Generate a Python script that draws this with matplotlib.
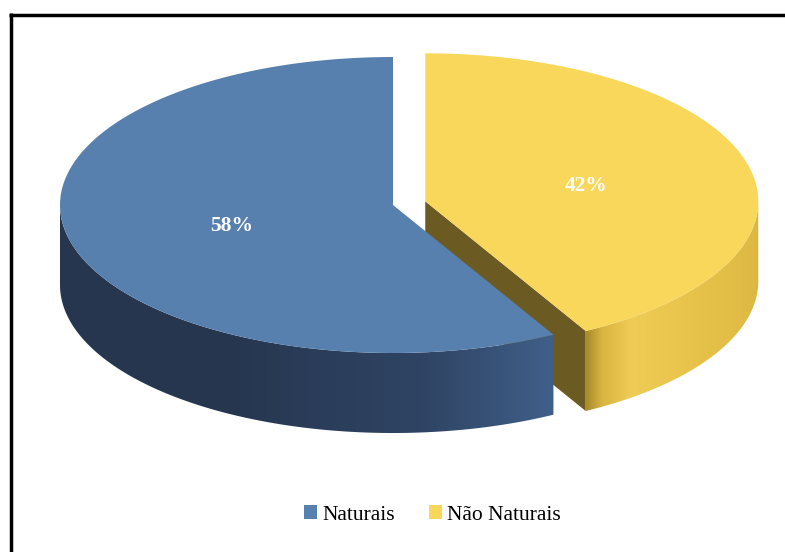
import numpy as np
import matplotlib.pyplot as plt
from matplotlib.patches import Polygon, Rectangle
from matplotlib.colors import to_rgb

# pie data
labels = ['Naturais', 'Não Naturais']
values = [58, 42]
explode = [0.0, 0.1]

top_colors = ['#5880ae', '#f8d75b']
cut_colors = ['#2e4566', '#6c5a23']
# side shading, (angle, colour) stops along the rim
side_stops = [
    [(180, '#27374f'), (240, '#26364f'), (275, '#2f4464'), (299, '#40608a')],
    [(298, '#9c7f26'), (302, '#d9b541'), (308, '#efcc55'), (325, '#e6c24a'),
     (350, '#ddb944'), (360, '#d6b343')],
]

cx, cy = 393, 205
rx, ry = 333, 148
depth = 80
start = 90


def pt(x0, y0, a):
    r = np.radians(a)
    return np.array([x0 + rx * np.cos(r), y0 - ry * np.sin(r)])


def shade(stops, a):
    angs = [s[0] for s in stops]
    cols = np.array([to_rgb(s[1]) for s in stops])
    return np.stack([np.interp(a, angs, cols[:, k]) for k in range(3)], axis=-1)


fig = plt.figure(figsize=(7.85, 5.52), dpi=100)
ax = fig.add_axes([0, 0, 1, 1])

total = sum(values)
spans = []
a = start
for v in values:
    spans.append((a, a + 360 * v / total))
    a += 360 * v / total

down = np.array([0, depth])

# draw back to front: last slice first
for i in reversed(range(len(values))):
    a0, a1 = spans[i]
    mid = np.radians((a0 + a1) / 2)
    ox = cx + explode[i] * rx * np.cos(mid)
    oy = cy - explode[i] * ry * np.sin(mid)
    c = np.array([ox, oy])

    # radial cut faces
    for ang, normal in ((a0, a0 - 90), (a1, a1 + 90)):
        if np.sin(np.radians(normal)) < -1e-6:
            p = pt(ox, oy, ang)
            ax.add_patch(Polygon([c, p, p + down, c + down], closed=True,
                                 facecolor=cut_colors[i], edgecolor='none'))

    # outer rim, only the front half (180..360) shows
    lo = max(a0, 180)
    hi = min(a1, 360)
    if hi > lo:
        angs = np.linspace(lo, hi, 300)
        upper = [pt(ox, oy, t) for t in angs]
        lower = [p + down for p in upper[::-1]]
        rim = Polygon(upper + lower, closed=True, facecolor='none',
                      edgecolor='none')
        ax.add_patch(rim)
        xs = np.linspace(min(p[0] for p in upper), max(p[0] for p in upper), 600)
        ang_x = 360 - np.degrees(np.arccos(np.clip((xs - ox) / rx, -1, 1)))
        grad = shade(side_stops[i], ang_x)[None, :, :]
        ys = [p[1] for p in upper + lower]
        im = ax.imshow(grad, extent=[xs[0], xs[-1], max(ys), min(ys)],
                       aspect='auto', interpolation='bilinear', zorder=rim.get_zorder())
        im.set_clip_path(rim)

    # top face
    arc = np.linspace(a0, a1, 200)
    verts = [c] + [pt(ox, oy, t) for t in arc]
    ax.add_patch(Polygon(verts, closed=True, facecolor=top_colors[i],
                         edgecolor='none', zorder=1.5))

    # percentage label at half radius
    lx = ox + 0.5 * rx * np.cos(mid)
    ly = oy - 0.5 * ry * np.sin(mid) + 3
    ax.text(lx, ly, f'{values[i]}%', ha='center', va='center', color='white',
            fontsize=15.5, fontweight='bold', family='Liberation Serif', zorder=5)

ax.set_xlim(0, 785)
ax.set_ylim(552, 0)
ax.axis('off')

# legend
handles = [Rectangle((0, 0), 1, 1, facecolor=c, edgecolor='none') for c in top_colors]
fig.legend(handles, labels, loc='center', bbox_to_anchor=(0.551, 0.067), ncol=2,
           frameon=False, prop={'family': 'Liberation Serif', 'size': 15.5},
           handlelength=0.6, handleheight=0.6, handletextpad=0.25,
           columnspacing=1.55)

# frame lines at top and left
ax.plot([9, 785], [14.5, 14.5], color='black', lw=2.5, clip_on=False,
        solid_capstyle='butt')
ax.plot([10.5, 10.5], [13, 552], color='black', lw=2.5, clip_on=False,
        solid_capstyle='butt')

fig.savefig('out.png', dpi=100, facecolor='white')
